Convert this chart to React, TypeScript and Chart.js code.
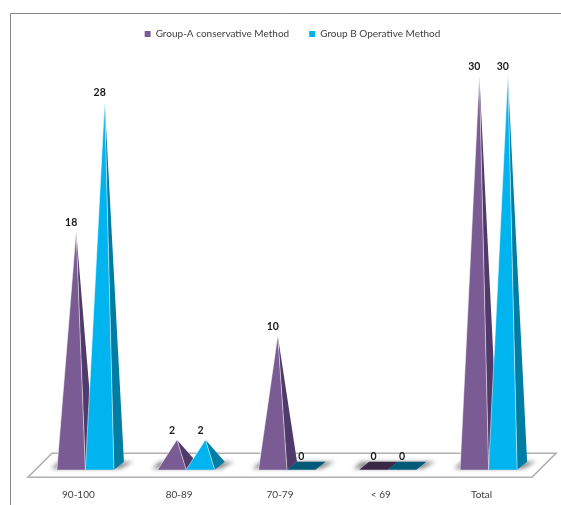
import React, { useEffect, useRef } from "react";
import { Chart, registerables } from "chart.js";

Chart.register(...registerables);

const categories = ["90-100", "80-89", "70-79", "< 69", "Total"];
const groupA = [18, 2, 10, 0, 30];
const groupB = [28, 2, 0, 0, 30];
const seriesNames = ["Group-A conservative Method", "Group B Operative Method"];
const frontColors = ["#7a5b94", "#00b4f0"];
const sideColors = ["#4f3a69", "#007da3"];
const flatColors = ["#3a2849", "#005a78"];
const FONT = "Lato, sans-serif";

const pyramids = {
  id: "pyramids",
  afterLayout(chart: any) {
    chart.legend.left += 5.5;
    chart.legend.right += 5.5;
  },
  beforeDatasetsDraw(chart: any) {
    const { ctx, chartArea: a } = chart;
    const y0 = chart.scales.y.getPixelForValue(0);
    ctx.save();
    // outer frame
    ctx.strokeStyle = "#858585";
    ctx.lineWidth = 1;
    ctx.beginPath();
    ctx.moveTo(10.5, 505);
    ctx.lineTo(10.5, 13.5);
    ctx.lineTo(561, 13.5);
    ctx.stroke();
    // floor
    ctx.fillStyle = "#ffffff";
    ctx.strokeStyle = "#b0b0b0";
    ctx.lineWidth = 1.6;
    ctx.beginPath();
    ctx.moveTo(a.left - 7, y0 + 11.5);
    ctx.lineTo(a.right - 7, y0 + 11.5);
    ctx.lineTo(a.right + 17, y0 - 12.5);
    ctx.lineTo(a.left + 17, y0 - 12.5);
    ctx.closePath();
    ctx.fill();
    ctx.stroke();
    // floor shadows
    ctx.filter = "blur(2px)";
    ctx.fillStyle = "#8a8a8a";
    const metaA = chart.getDatasetMeta(0).data;
    const metaB = chart.getDatasetMeta(1).data;
    metaA.forEach((el: any, i: number) => {
      const l = el.x - el.width / 2;
      const r = metaB[i].x + metaB[i].width / 2;
      ctx.beginPath();
      ctx.moveTo(l - 6, y0 + 3);
      ctx.lineTo(r + 6, y0 + 3);
      ctx.lineTo(r + 19, y0 - 4);
      ctx.lineTo(l + 2, y0 - 4);
      ctx.closePath();
      ctx.fill();
    });
    ctx.restore();
  },
  beforeDatasetDraw() {
    return false;
  },
  afterDatasetsDraw(chart: any) {
    const { ctx } = chart;
    const dx = 10;
    chart.data.datasets.forEach((_: any, i: number) => {
      chart.getDatasetMeta(i).data.forEach((el: any) => {
        const l = el.x - el.width / 2;
        const r = el.x + el.width / 2;
        const fy = el.base + 4;
        const by = el.base - 4;
        ctx.save();
        if (Math.abs(el.base - el.y) < 0.5) {
          ctx.fillStyle = flatColors[i];
          ctx.beginPath();
          ctx.moveTo(l, fy);
          ctx.lineTo(r, fy);
          ctx.lineTo(r + dx, by);
          ctx.lineTo(l + dx, by);
          ctx.closePath();
          ctx.fill();
        } else {
          const ax = el.x + 5;
          ctx.fillStyle = sideColors[i];
          ctx.beginPath();
          ctx.moveTo(r, fy);
          ctx.lineTo(r + dx, by);
          ctx.lineTo(ax, el.y);
          ctx.closePath();
          ctx.fill();
          ctx.fillStyle = frontColors[i];
          ctx.beginPath();
          ctx.moveTo(l, fy);
          ctx.lineTo(r, fy);
          ctx.lineTo(ax, el.y);
          ctx.closePath();
          ctx.fill();
          ctx.strokeStyle = "rgba(255,255,255,0.65)";
          ctx.lineWidth = 0.8;
          ctx.beginPath();
          ctx.moveTo(l, fy);
          ctx.lineTo(ax, el.y);
          ctx.lineTo(r, fy);
          ctx.stroke();
        }
        ctx.restore();
      });
    });
    ctx.save();
    ctx.fillStyle = "#1a1a1a";
    ctx.font = `bold 10.5px ${FONT}`;
    ctx.textAlign = "center";
    ctx.textBaseline = "middle";
    chart.data.datasets.forEach((ds: any, i: number) => {
      chart.getDatasetMeta(i).data.forEach((el: any, j: number) => {
        ctx.fillText(String(ds.data[j]), el.x, el.y - 8.7);
      });
    });
    ctx.restore();
  },
};

export default function App() {
  const ref = useRef<HTMLCanvasElement>(null);
  useEffect(() => {
    document.body.style.margin = "0";
    const chart = new Chart(ref.current!, {
      type: "bar",
      data: {
        labels: categories,
        datasets: [
          { label: seriesNames[0], data: groupA, backgroundColor: frontColors[0] },
          { label: seriesNames[1], data: groupB, backgroundColor: frontColors[1] },
        ],
      },
      options: {
        animation: false,
        responsive: false,
        devicePixelRatio: 1,
        layout: { padding: { left: 35, right: 22, top: 9, bottom: 0 } },
        datasets: { bar: { categoryPercentage: 0.566, barPercentage: 1 } },
        plugins: {
          tooltip: { enabled: false },
          legend: {
            position: "top",
            labels: {
              boxWidth: 6,
              boxHeight: 6,
              padding: 20,
              color: "#404040",
              font: { family: FONT, size: 10 },
            },
          },
        },
        scales: {
          x: {
            afterFit(scale: any) {
              scale.height = 39.3;
            },
            grid: { display: false },
            border: { display: false },
            ticks: {
              color: "#404040",
              font: { family: FONT, size: 10 },
              labelOffset: -7,
              padding: 15.3,
              maxRotation: 0,
            },
          },
          y: { display: false, min: 0, max: 32 },
        },
      },
      plugins: [pyramids],
    } as any);
    return () => chart.destroy();
  }, []);
  return <canvas ref={ref} width={561} height={505} style={{ display: "block" }} />;
}
